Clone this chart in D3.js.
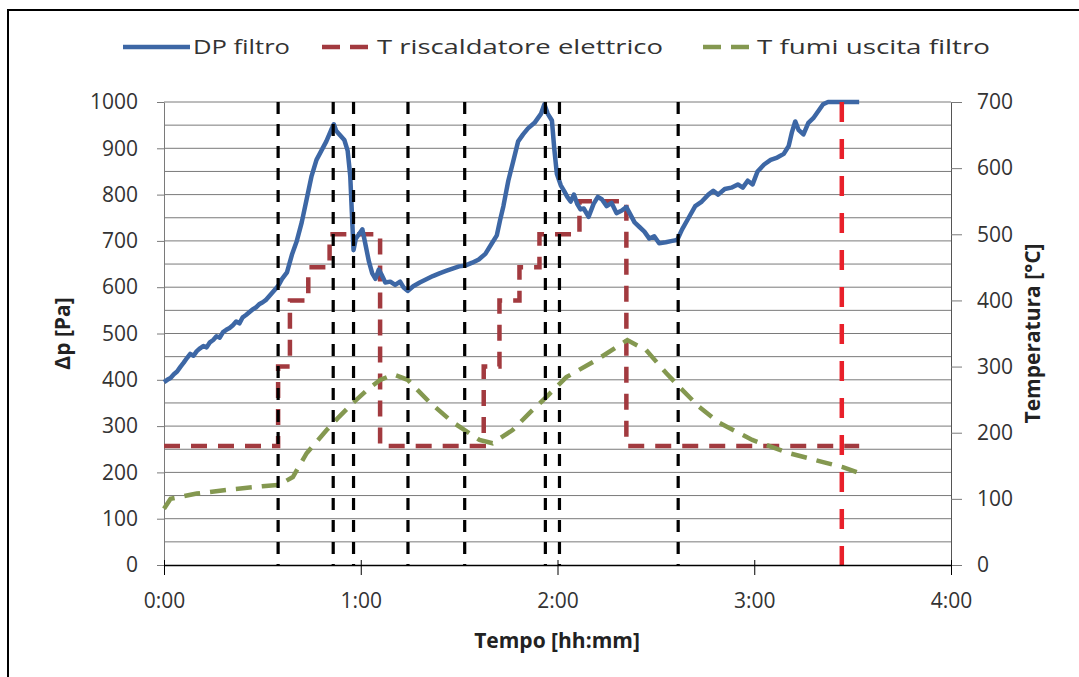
<!DOCTYPE html>
<html><head><meta charset="utf-8">
<script src="https://cdn.jsdelivr.net/npm/d3@7"></script>
<style>
html,body{margin:0;padding:0;background:#fff;}
svg{display:block;}
</style></head>
<body>
<svg id="chart" width="1079" height="677"></svg>
<script>
// ---- DATA ----
// DP filtro (time in minutes, Pa)
const dpTime = [0,1,2,3,4,5,6,7,8,9,10,11,12,13,14,15,16,17,18,19,20,21,22,23,24,25,26,27,28,29,30,31,32,33,34,35,36,37.5,39,40.5,42,43.5,45,46.5,48,49.5,51,51.8,52.5,53.5,55,56,56.8,57.3,57.8,58.5,59.5,60.5,61.5,62.5,63.5,64.5,65.5,66.5,67.5,69,70.5,72,73,74.3,76,78,80,82,84,86,88,90,92,94,96,98,100,101.5,102.5,103.5,105,106.5,108,109.5,111,113,115,116,117,118.3,119,119.8,121,122,123,124,125,126,127,128,129.5,131,132.3,133.5,135,136.5,138,139.5,141,142,143.5,145,146.5,148,149.5,151,153,155,156.5,158,160,162,164,166,167.5,169,171,173,175,176.5,178,179.5,181,183,185,187,189,190.5,191.5,192.5,193.5,195,196.5,198,199.5,201,202.5,205,208,212];
const dpValue = [395,400,404,412,418,428,437,447,456,452,462,468,473,470,481,486,494,491,503,508,512,518,526,522,535,540,546,552,556,563,567,572,580,588,596,605,618,632,670,700,740,790,840,875,895,915,940,952,938,930,918,895,840,760,680,705,715,725,690,655,630,618,638,625,610,612,605,612,600,592,602,610,617,624,630,635,640,645,647,653,660,672,695,712,745,775,830,872,915,930,943,955,975,995,975,960,900,845,820,808,795,785,800,780,768,770,752,780,795,790,775,782,760,765,773,760,740,730,720,705,710,695,697,700,702,725,750,775,785,800,808,800,812,815,822,815,830,822,850,865,875,880,888,905,935,958,940,930,955,965,980,995,1000,1000,1000,1000];

// T riscaldatore elettrico (time in minutes, °C) - step values
const heaterTime  = [0,34.8,38.4,44,50.5,65.9,97.5,102.3,108.4,114.5,126.7,141,212];
const heaterValue = [180,300,400,450,500,180,300,400,450,500,550,180,180];

// T fumi uscita filtro (time in minutes, °C)
const fumiTime  = [0,2,10,20,30,35,39.3,43.5,49.6,53,57.6,62,66,70,74.3,81,88,91.7,96.2,100.2,106.3,111.5,116.6,122.7,131.9,141.3,147,153.2,157.2,163.2,169.3,179.4,190.7,200.7,207,212];
const fumiValue = [85,100,108,114,119,121,133,169,204,222,245,265,280,288,280,246,216,204,189,184,204,230,254,284,310,340,325,290,269,239,215,189,169,156,148,139];

// Event markers (minutes)
const eventTimes = [34.8,51.6,57.8,74.4,91.7,116.3,120.6,156.8];
const endTime = [206.7];

// Axis ticks
const xTicks = [0,60,120,180,240];
const xTickLabels = ["0:00","1:00","2:00","3:00","4:00"];
const yLeftTicks = [0,100,200,300,400,500,600,700,800,900,1000];
const yRightTicks = [0,100,200,300,400,500,600,700];
const gridValues = d3.range(50,1001,50);

const seriesNames = ["DP filtro","T riscaldatore elettrico","T fumi uscita filtro"];

// ---- DRAW ----
const svg = d3.select("#chart");
const L = 164, R = 951, T = 102, B = 565;
const x = d3.scaleLinear().domain([0,240]).range([L,R]);
const yL = d3.scaleLinear().domain([0,1000]).range([B,T]);
const yR = d3.scaleLinear().domain([0,700]).range([B,T]);

const FONT = "'Open Sans', 'DejaVu Sans', sans-serif";
const cBlue = "#3d67a5", cRed = "#a23a3f", cGreen = "#849850", cBright = "#e8202a";

// frame
svg.append("path").attr("d","M8,677 L8,10 L1079,10").attr("fill","none").attr("stroke","#000").attr("stroke-width",2);

// gridlines
svg.append("g").selectAll("line").data(gridValues).join("line")
  .attr("x1",L).attr("x2",R).attr("y1",d=>yL(d)).attr("y2",d=>yL(d))
  .attr("stroke","#7a7a7a").attr("stroke-width",1);

// left axis
const gLeft = svg.append("g").attr("transform",`translate(${L},0)`)
  .call(d3.axisLeft(yL).tickValues(yLeftTicks).tickFormat(d3.format("d")).tickSize(7).tickPadding(19).tickSizeOuter(0));
gLeft.select(".domain").attr("stroke","#7a7a7a");
gLeft.selectAll(".tick line").attr("stroke","#7a7a7a");
gLeft.selectAll("text").attr("font-family",FONT).attr("font-size",21).attr("fill","#333");

// right axis
const gRight = svg.append("g").attr("transform",`translate(${R},0)`)
  .call(d3.axisRight(yR).tickValues(yRightTicks).tickFormat(d3.format("d")).tickSize(11).tickPadding(15).tickSizeOuter(0));
gRight.select(".domain").attr("stroke","#555");
gRight.selectAll(".tick line").attr("stroke","#7a7a7a");
gRight.selectAll("text").attr("font-family",FONT).attr("font-size",21).attr("fill","#333");

// series
const lineL = d3.line().x(d=>x(d[0])).y(d=>yL(d[1]));
const lineR = d3.line().x(d=>x(d[0])).y(d=>yR(d[1]));
const lineStep = d3.line().x(d=>x(d[0])).y(d=>yR(d[1])).curve(d3.curveStepAfter);

svg.append("path").datum(heaterTime.map((t,i)=>[t,heaterValue[i]]))
  .attr("d",lineStep).attr("fill","none").attr("stroke",cRed).attr("stroke-width",4.5)
  .attr("stroke-dasharray","16,11");

svg.append("path").datum(fumiTime.map((t,i)=>[t,fumiValue[i]]))
  .attr("d",lineR).attr("fill","none").attr("stroke",cGreen).attr("stroke-width",4.5)
  .attr("stroke-dasharray","16,10");

svg.append("path").datum(dpTime.map((t,i)=>[t,dpValue[i]]))
  .attr("d",lineL).attr("fill","none").attr("stroke",cBlue).attr("stroke-width",4.5)
  .attr("stroke-linejoin","round");

// event lines
svg.append("g").selectAll("line").data(eventTimes).join("line")
  .attr("x1",d=>x(d)).attr("x2",d=>x(d)).attr("y1",T).attr("y2",B)
  .attr("stroke","#000").attr("stroke-width",3.2).attr("stroke-dasharray","12,10");
svg.append("g").selectAll("line").data(endTime).join("line")
  .attr("x1",d=>x(d)).attr("x2",d=>x(d)).attr("y1",T).attr("y2",B)
  .attr("stroke",cBright).attr("stroke-width",4.5).attr("stroke-dasharray","20,17");

// bottom axis
const gBottom = svg.append("g").attr("transform",`translate(0,${B})`)
  .call(d3.axisBottom(x).tickValues(xTicks).tickFormat((d,i)=>xTickLabels[i]).tickSize(10).tickPadding(18).tickSizeOuter(0));
gBottom.select(".domain").attr("stroke","#000").attr("stroke-width",1.5);
gBottom.selectAll(".tick line").attr("stroke","#000").attr("y1",-5).attr("y2",10);
gBottom.selectAll("text").attr("font-family",FONT).attr("font-size",21).attr("fill","#333");

// axis titles
svg.append("text").attr("transform",`translate(70,${(T+B)/2}) rotate(-90)`)
  .attr("text-anchor","middle").attr("font-family",FONT).attr("font-weight","bold")
  .attr("font-size",21).attr("fill","#222").text("Δp [Pa]");
svg.append("text").attr("transform",`translate(1040,${(T+B)/2}) rotate(-90)`)
  .attr("text-anchor","middle").attr("font-family",FONT).attr("font-weight","bold")
  .attr("font-size",21).attr("fill","#222").text("Temperatura [°C]");
svg.append("text").attr("x",557).attr("y",648)
  .attr("text-anchor","middle").attr("font-family",FONT).attr("font-weight","bold")
  .attr("font-size",21).attr("fill","#222").text("Tempo [hh:mm]");

// legend
const legend = [
  {name:seriesNames[0], color:cBlue, dash:null, x1:123, x2:190, tx:193, w:97},
  {name:seriesNames[1], color:cRed, dash:"18,10", x1:322, x2:372, tx:377, w:286},
  {name:seriesNames[2], color:cGreen, dash:"18,10", x1:703, x2:751, tx:757, w:233}
];
const lg = svg.append("g");
legend.forEach(l=>{
  lg.append("line").attr("x1",l.x1).attr("x2",l.x2).attr("y1",47).attr("y2",47)
    .attr("stroke",l.color).attr("stroke-width",4.5).attr("stroke-dasharray",l.dash);
  lg.append("text").attr("x",l.tx).attr("y",54).attr("font-family",FONT).attr("font-size",20)
    .attr("fill","#333").attr("textLength",l.w).attr("lengthAdjust","spacingAndGlyphs").text(l.name);
});
</script>
</body></html>
